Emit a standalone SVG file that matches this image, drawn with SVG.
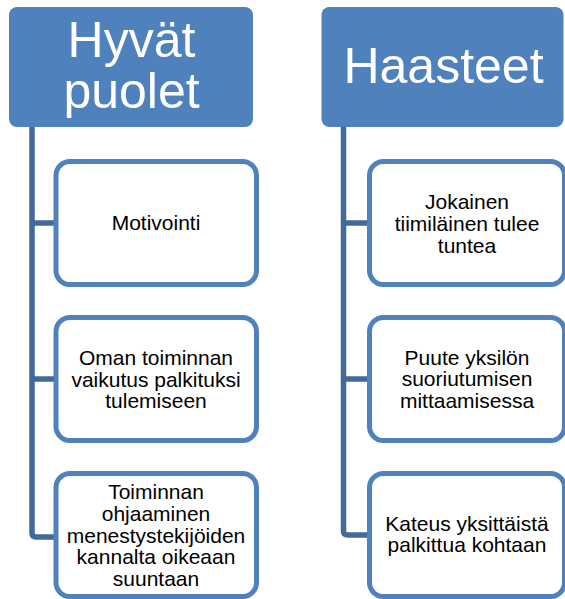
<svg xmlns="http://www.w3.org/2000/svg" width="565" height="599" viewBox="0 0 565 599">
<style>
.hdr{fill:#4F81BD;}
.htxt{font-family:"Liberation Sans",Arial,sans-serif;font-size:50px;fill:#fff;text-anchor:middle;}
.box{fill:#fff;stroke:#4F81BD;stroke-width:5;}
.txt{font-family:"Liberation Sans",Arial,sans-serif;font-size:21px;fill:#000;text-anchor:middle;}
.con{fill:none;stroke:#41699B;stroke-width:5.5;stroke-linejoin:round;}
</style>
<rect width="565" height="599" fill="#fff"/>
<g id="connectors">
<path class="con" d="M32,127 V533 Q32,537 36,537 H56"/>
<path class="con" d="M32,223 H56"/>
<path class="con" d="M32,379 H56"/>
<path class="con" d="M343.5,127 V531 Q343.5,535 347.5,535 H369"/>
<path class="con" d="M343.5,223 H369"/>
<path class="con" d="M343.5,379 H369"/>
</g>
<g id="hyvat-puolet">
<rect class="hdr" x="9" y="7" width="244" height="120" rx="8"/>
<text class="htxt" x="131.5" y="57">Hyvät</text>
<text class="htxt" x="131.5" y="108">puolet</text>
</g>
<g id="haasteet">
<rect class="hdr" x="321.5" y="7" width="242" height="120" rx="8"/>
<text class="htxt" x="443.5" y="83">Haasteet</text>
</g>
<g id="motivointi">
<rect class="box" x="56" y="161.5" width="200.5" height="123" rx="14"/>
<text class="txt" x="156" y="230">Motivointi</text>
</g>
<g id="oman-toiminnan">
<rect class="box" x="56" y="317.5" width="200.5" height="123" rx="14"/>
<text class="txt" x="156" y="365">Oman toiminnan</text>
<text class="txt" x="156" y="386.7">vaikutus palkituksi</text>
<text class="txt" x="156" y="408.4">tulemiseen</text>
</g>
<g id="toiminnan-ohjaaminen">
<rect class="box" x="56" y="473.5" width="200.5" height="123" rx="14"/>
<text class="txt" x="156" y="499.3">Toiminnan</text>
<text class="txt" x="156" y="521">ohjaaminen</text>
<text class="txt" x="156" y="542.7">menestystekijöiden</text>
<text class="txt" x="156" y="564.4">kannalta oikeaan</text>
<text class="txt" x="156" y="586.1">suuntaan</text>
</g>
<g id="jokainen">
<rect class="box" x="369.5" y="161.5" width="195" height="123" rx="14"/>
<text class="txt" x="467" y="209.3">Jokainen</text>
<text class="txt" x="467" y="231">tiimiläinen tulee</text>
<text class="txt" x="467" y="252.7">tuntea</text>
</g>
<g id="puute">
<rect class="box" x="369.5" y="317.5" width="195" height="123" rx="14"/>
<text class="txt" x="467" y="364.5">Puute yksilön</text>
<text class="txt" x="467" y="386.2">suoriutumisen</text>
<text class="txt" x="467" y="407.9">mittaamisessa</text>
</g>
<g id="kateus">
<rect class="box" x="369.5" y="473.5" width="195" height="123" rx="14"/>
<text class="txt" x="467" y="530.7">Kateus yksittäistä</text>
<text class="txt" x="467" y="552.4">palkittua kohtaan</text>
</g>
</svg>
